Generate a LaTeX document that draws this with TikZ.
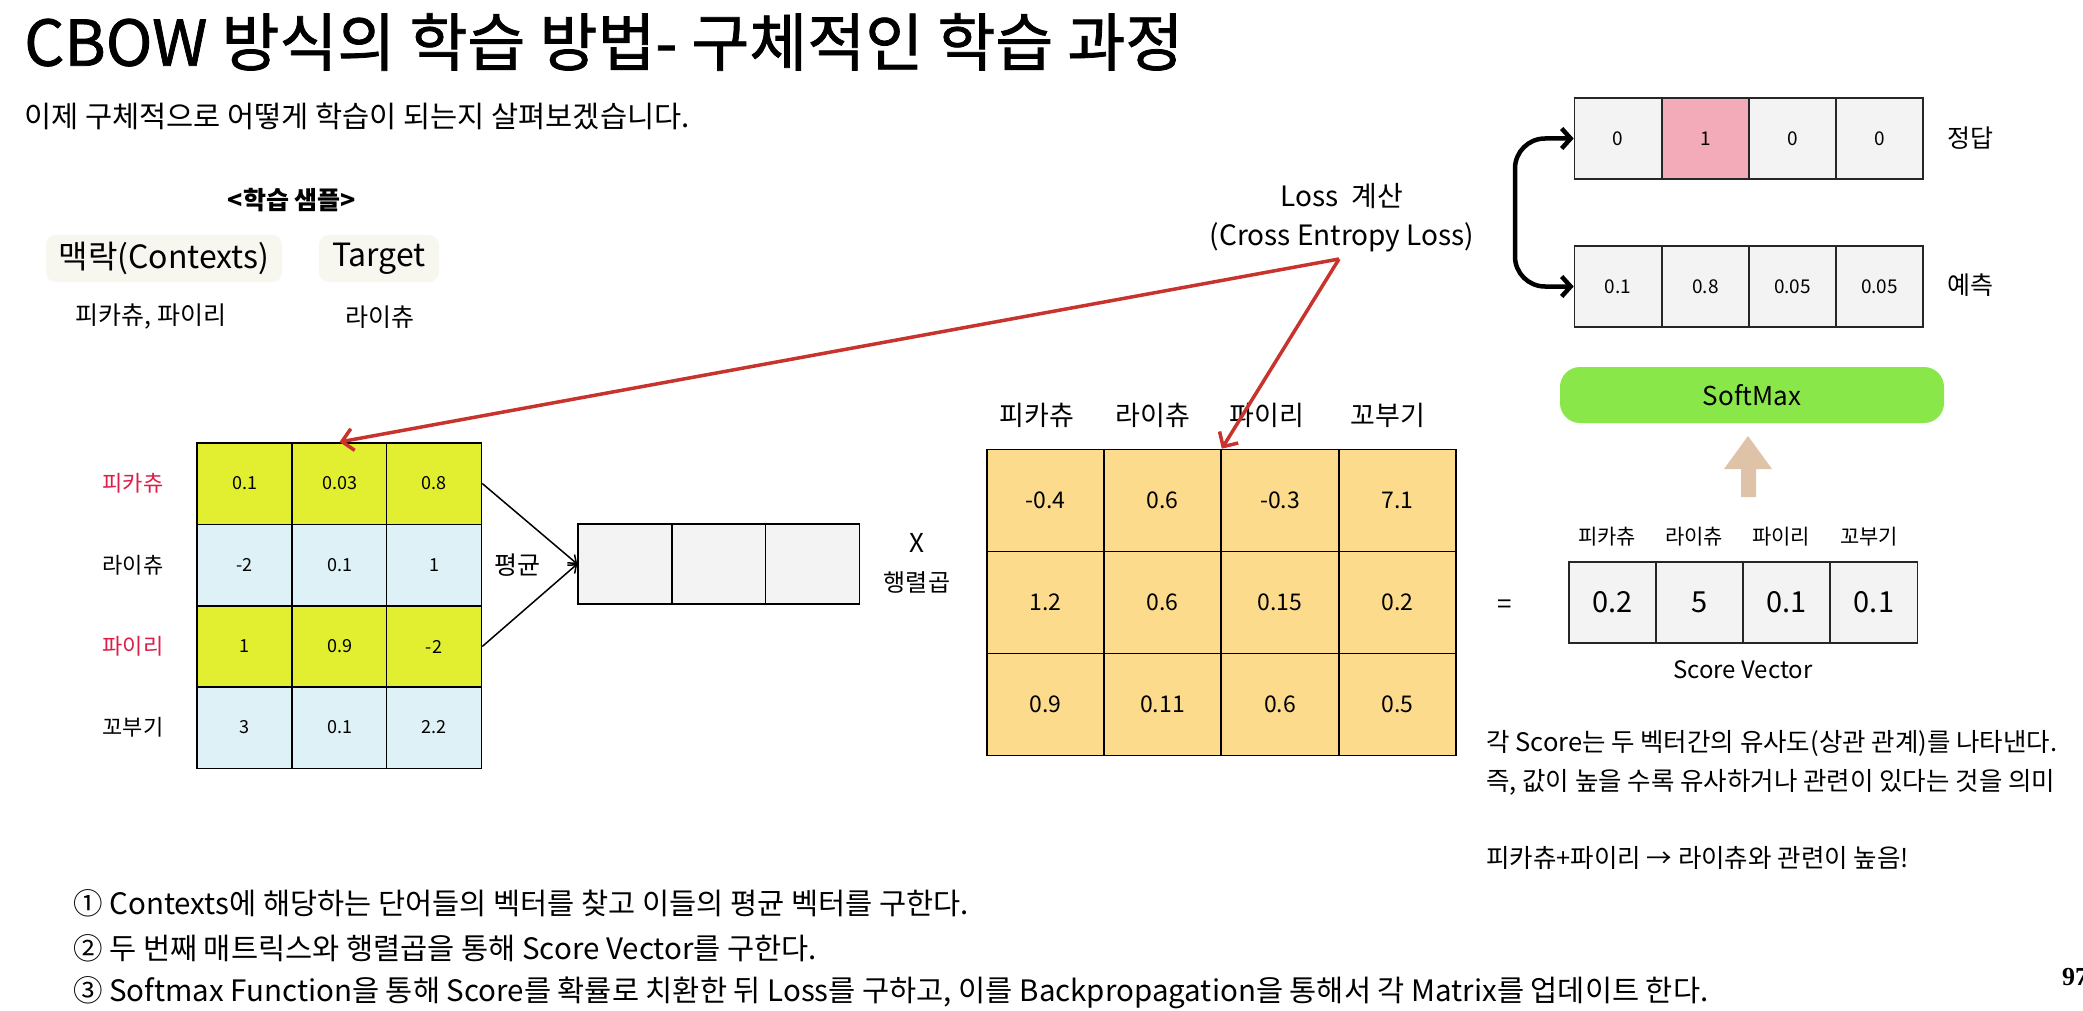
\documentclass[tikz,border=0pt]{standalone}
\usepackage{fontspec}
\setmainfont{Noto Sans CJK KR}
\newfontfamily\titlefont{Noto Sans CJK KR}[FakeBold=1.2]
\newfontfamily\pgfont{Liberation Serif}
\usetikzlibrary{arrows.meta,calc}
\newcommand{\myfs}[1]{\fontsize{#1pt}{#1pt}\selectfont}
\definecolor{lmyel}{RGB}{225,239,48}
\definecolor{lmblue}{RGB}{222,241,246}
\definecolor{rmor}{RGB}{252,220,140}
\definecolor{cellgray}{RGB}{243,243,243}
\definecolor{pinkc}{RGB}{243,171,186}
\definecolor{sgreen}{RGB}{137,231,74}
\definecolor{tanc}{RGB}{222,195,168}
\definecolor{lossred}{RGB}{200,52,45}
\definecolor{wordred}{RGB}{221,28,72}
\definecolor{pillbg}{RGB}{247,246,239}
\begin{document}
\begin{tikzpicture}[x=1pt,y=-1pt,
  txt/.style={inner sep=0pt},
  lcell/.style={draw=black, line width=1.5pt, minimum width=95pt, minimum height=81.5pt, inner sep=0pt, font=\myfs{18}},
  mcell/.style={draw=black, line width=1.5pt, fill=cellgray, minimum width=94pt, minimum height=80pt, inner sep=0pt},
  rcell/.style={draw=black, line width=1.6pt, fill=rmor, minimum width=117pt, minimum height=102pt, inner sep=0pt, font=\myfs{23}},
  scell/.style={draw=black!85, line width=1.6pt, fill=cellgray, minimum width=87pt, minimum height=81pt, inner sep=0pt, font=\myfs{29}},
  tcell/.style={draw=black!85, line width=1.6pt, fill=cellgray, minimum width=87pt, minimum height=81pt, inner sep=0pt, font=\myfs{19}},
  pill/.style={fill=pillbg, rounded corners=10pt, minimum height=47pt, inner sep=0pt, font=\myfs{32}},
  avgline/.style={line width=1.5pt, -{Straight Barb[length=7pt,width=11pt]}},
  redarrow/.style={draw=lossred, line width=3.5pt, -{Straight Barb[length=11pt,width=22pt]}},
  dblarrow/.style={line width=4.5pt, rounded corners=30pt, {Straight Barb[length=9pt,width=20pt]}-{Straight Barb[length=9pt,width=20pt]}}
]
\fill[white] (0,0) rectangle (2083,1011);
\useasboundingbox (0,0) rectangle (2083,1011);

% titles
\node[txt, anchor=west, font=\titlefont\myfs{63}] (title) at (24,42) {CBOW 방식의 학습 방법- 구체적인 학습 과정};
\node[txt, anchor=west, font=\myfs{29.5}] (subtitle) at (24,116) {이제 구체적으로 어떻게 학습이 되는지 살펴보겠습니다.};

% sample
\node[txt, font=\bfseries\myfs{25}] (sample) at (292,200) {<학습 샘플>};
\node[pill, minimum width=236pt] (ctx) at (164,258.5) {맥락(Contexts)};
\node[pill, minimum width=120pt] (tgt) at (379,258.5) {Target};
\node[txt, font=\myfs{25}] (ctxw) at (151,317) {피카츄, 파이리};
\node[txt, font=\myfs{25}] (tgtw) at (380,317) {라이츄};

% left matrix
\foreach \r/\yy/\fc/\a/\b/\c in {1/483.5/lmyel/0.1/0.03/0.8, 2/565/lmblue/-2/0.1/1, 3/646.5/lmyel/1/0.9/-2, 4/727.5/lmblue/3/0.1/2.2} {
  \node[lcell, fill=\fc] (L\r1) at (244.5,\yy) {\a};
  \node[lcell, fill=\fc] (L\r2) at (339.5,\yy) {\b};
  \node[lcell, fill=\fc] (L\r3) at (434,\yy) {\c};
}
\node[txt, font=\myfs{22}, text=wordred] (w1) at (133,483.5) {피카츄};
\node[txt, font=\myfs{22}] (w2) at (133,565) {라이츄};
\node[txt, font=\myfs{22}, text=wordred] (w3) at (133,646.5) {파이리};
\node[txt, font=\myfs{22}] (w4) at (133,727.5) {꼬부기};

% mean vector
\node[mcell] (M1) at (625,564) {};
\node[mcell] (M2) at (719,564) {};
\node[mcell] (M3) at (812.5,564) {};
\draw[avgline] (L13.east) -- (M1.west);
\draw[avgline] (L33.east) -- (M1.west);
\node[txt, font=\myfs{25}] (avg) at (517,565) {평균};
\node[txt, font=\myfs{26}] (xx) at (917,543) {X};
\node[txt, font=\myfs{24}] (mm) at (917,582) {행렬곱};

% right matrix
\foreach \r/\yy/\a/\b/\c/\d in {1/500.5/-0.4/0.6/-0.3/7.1, 2/602.5/1.2/0.6/0.15/0.2, 3/704.5/0.9/0.11/0.6/0.5} {
  \node[rcell] (R\r1) at (1045.5,\yy) {\a};
  \node[rcell] (R\r2) at (1162.5,\yy) {\b};
  \node[rcell] (R\r3) at (1280,\yy) {\c};
  \node[rcell] (R\r4) at (1397.5,\yy) {\d};
}
\node[txt, font=\myfs{27}] (h1) at (1037,415) {피카츄};
\node[txt, font=\myfs{27}] (h2) at (1153,415) {라이츄};
\node[txt, font=\myfs{27}] (h3) at (1267,415) {파이리};
\node[txt, font=\myfs{27}] (h4) at (1388,415) {꼬부기};

\node[txt, font=\myfs{26}] (eq) at (1505,607) {=};

% score vector
\node[scell] (S1) at (1612.5,602.5) {0.2};
\node[scell] (S2) at (1699.5,602.5) {5};
\node[scell] (S3) at (1786.5,602.5) {0.1};
\node[scell] (S4) at (1874,602.5) {0.1};
\node[txt, font=\myfs{21}] (sl1) at (1607,537) {피카츄};
\node[txt, font=\myfs{21}] (sl2) at (1694,537) {라이츄};
\node[txt, font=\myfs{21}] (sl3) at (1781,537) {파이리};
\node[txt, font=\myfs{21}] (sl4) at (1869,537) {꼬부기};
\node[txt, font=\myfs{24}] (svlab) at (1743,670) {Score Vector};

\node[txt, anchor=west, font=\myfs{25.5}] (n1) at (1486,743) {각 Score는 두 벡터간의 유사도(상관 관계)를 나타낸다.};
\node[txt, anchor=west, font=\myfs{25.5}] (n2) at (1486,782) {즉, 값이 높을 수록 유사하거나 관련이 있다는 것을 의미};
\node[txt, anchor=west, font=\myfs{25.5}] (n3) at (1486,858) {피카츄+파이리 → 라이츄와 관련이 높음!};

% softmax
\node[fill=sgreen, rounded corners=20pt, minimum width=384pt, minimum height=56pt, inner sep=0pt, font=\myfs{26}] (smax) at (1752,395) {SoftMax};
\fill[tanc] (1748,436) -- (1724,469) -- (1741,469) -- (1741,497) -- (1756,497) -- (1756,469) -- (1772,469) -- cycle;

% answer / prediction
\node[tcell] (T1) at (1618,138.5) {0};
\node[tcell, fill=pinkc] (T2) at (1705.5,138.5) {1};
\node[tcell] (T3) at (1792.5,138.5) {0};
\node[tcell] (T4) at (1879.5,138.5) {0};
\node[tcell] (P1) at (1618,286.5) {0.1};
\node[tcell] (P2) at (1705.5,286.5) {0.8};
\node[tcell] (P3) at (1792.5,286.5) {0.05};
\node[tcell] (P4) at (1879.5,286.5) {0.05};
\node[txt, font=\myfs{25}] (ans) at (1970,138) {정답};
\node[txt, font=\myfs{25}] (pred) at (1970,285) {예측};
\coordinate (bendB) at (1515,286.5);
\draw[dblarrow] (T1.west) -| (bendB) -- (P1.west);

% loss
\node[txt, font=\myfs{28}] (loss1) at (1342,196) {Loss~~계산};
\node[txt, font=\myfs{28}] (loss2) at (1342,237) {(Cross Entropy Loss)};
\coordinate (lossPt) at (1339,259);
\draw[redarrow] (lossPt) -- (L12.north);
\draw[redarrow] (lossPt) -- (R12.north east);

% steps
\node[txt, anchor=west, font=\myfs{29.5}] (st1) at (73,903) {① Contexts에 해당하는 단어들의 벡터를 찾고 이들의 평균 벡터를 구한다.};
\node[txt, anchor=west, font=\myfs{29.5}] (st2) at (73,948) {② 두 번째 매트릭스와 행렬곱을 통해 Score Vector를 구한다.};
\node[txt, anchor=west, font=\myfs{29.5}] (st3) at (73,993) {③ Softmax Function을 통해 Score를 확률로 치환한 뒤 Loss를 구하고, 이를 Backpropagation을 통해서 각 Matrix를 업데이트 한다.};
\node[txt, anchor=west, font=\pgfont\bfseries\myfs{26}] (pg) at (2062,977) {97};
\end{tikzpicture}
\end{document}
